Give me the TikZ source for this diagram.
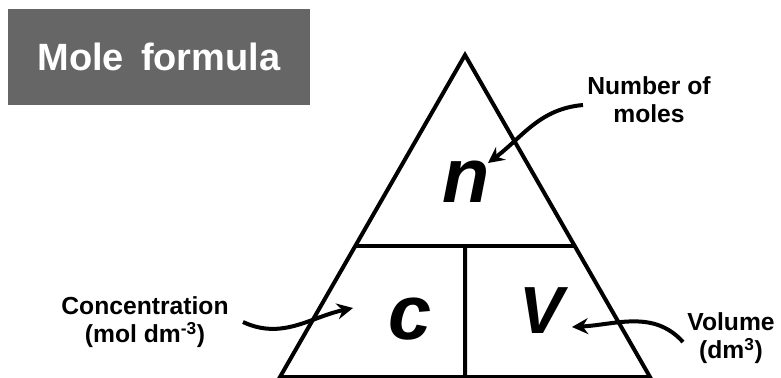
\documentclass[tikz,border=0pt]{standalone}
\usepackage{fontspec}
\setmainfont{Liberation Sans}
\usetikzlibrary{arrows.meta,calc}
\begin{document}
\begin{tikzpicture}[x=0.75pt, y=-0.75pt,
    tag/.style={font=\bfseries\fontsize{18.5}{21}\selectfont, align=center},
    letter/.style={font=\bfseries\itshape\fontsize{58}{58}\selectfont},
    curvearrow/.style={line width=3pt, -{Stealth[length=12pt, width=12pt, inset=4pt]}}]
    \useasboundingbox (0,0) rectangle (781,378);

    % 标题
    \node[fill=black!60, text=white, minimum width=226.5pt, minimum height=72pt,
          font=\bfseries\fontsize{28.5}{30}\selectfont] (title) at (159,57) {Mole\hspace{0.45em}formula};

    % 三角形
    \coordinate (top) at (465,55);
    \coordinate (bl) at (280,377);
    \coordinate (br) at (650,377);
    \coordinate (ml) at ($(bl)!0.407!(top)$);
    \coordinate (mr) at ($(br)!0.407!(top)$);
    \coordinate (mid) at ($(ml)!0.5!(mr)$);
    \coordinate (bm) at ($(bl)!0.5!(br)$);
    \draw[line width=3pt, line join=miter] (bl) -- (top) -- (br) -- cycle;
    \draw[line width=3pt] (ml) -- (mr);
    \draw[line width=3pt] (mid) -- (bm);

    % 字母
    \node[letter] (n) at (466,182) {n};
    \node[letter] (c) at (410,319) {c};
    \node[letter, font=\bfseries\itshape\fontsize{50}{50}\selectfont] (V) at (542,311) {V};

    % 标签
    \node[tag] (moles) at (649,100) {Number of\\moles};
    \node[tag] (conc) at (145,322) {Concentration\\(mol dm\textsuperscript{-3})};
    \node[tag] (vol) at (731,338) {Volume\\(dm\textsuperscript{3})};

    % 箭头
    \coordinate (nstart) at (583,105);
    \coordinate (ntip) at (488,163);
    \coordinate (cstart) at (243,322);
    \coordinate (ctip) at (353,308);
    \coordinate (vstart) at (683,342);
    \coordinate (vtip) at (572,327);
    \draw[curvearrow] (nstart) to[out=185, in=37] (ntip);
    \draw[curvearrow] (cstart) to[out=-25, in=192] (ctip);
    \draw[curvearrow] (vstart) to[out=132, in=3] (vtip);
\end{tikzpicture}
\end{document}
